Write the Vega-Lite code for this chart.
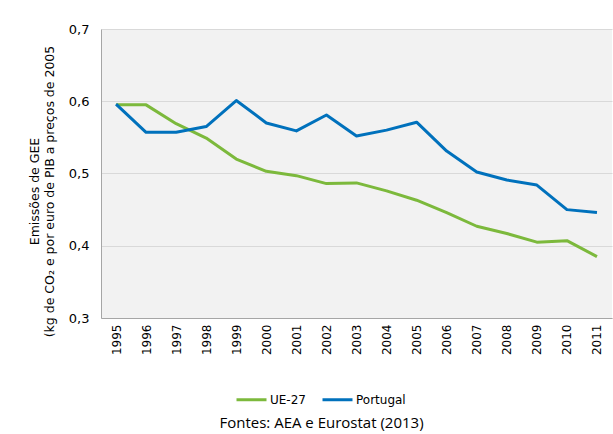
{
  "$schema": "https://vega.github.io/schema/vega-lite/v6.json",
  "autosize": {"type": "none"},
  "width": 511,
  "height": 289,
  "padding": {"left": 101, "top": 29, "right": 1, "bottom": 116},
  "background": "white",
  "data": {
    "values": [
      {"year": "1995", "series": "UE-27", "value": 0.595},
      {"year": "1996", "series": "UE-27", "value": 0.595},
      {"year": "1997", "series": "UE-27", "value": 0.569},
      {"year": "1998", "series": "UE-27", "value": 0.549},
      {"year": "1999", "series": "UE-27", "value": 0.520},
      {"year": "2000", "series": "UE-27", "value": 0.503},
      {"year": "2001", "series": "UE-27", "value": 0.497},
      {"year": "2002", "series": "UE-27", "value": 0.486},
      {"year": "2003", "series": "UE-27", "value": 0.487},
      {"year": "2004", "series": "UE-27", "value": 0.476},
      {"year": "2005", "series": "UE-27", "value": 0.463},
      {"year": "2006", "series": "UE-27", "value": 0.446},
      {"year": "2007", "series": "UE-27", "value": 0.427},
      {"year": "2008", "series": "UE-27", "value": 0.417},
      {"year": "2009", "series": "UE-27", "value": 0.405},
      {"year": "2010", "series": "UE-27", "value": 0.407},
      {"year": "2011", "series": "UE-27", "value": 0.385},
      {"year": "1995", "series": "Portugal", "value": 0.596},
      {"year": "1996", "series": "Portugal", "value": 0.557},
      {"year": "1997", "series": "Portugal", "value": 0.557},
      {"year": "1998", "series": "Portugal", "value": 0.565},
      {"year": "1999", "series": "Portugal", "value": 0.601},
      {"year": "2000", "series": "Portugal", "value": 0.570},
      {"year": "2001", "series": "Portugal", "value": 0.559},
      {"year": "2002", "series": "Portugal", "value": 0.581},
      {"year": "2003", "series": "Portugal", "value": 0.552},
      {"year": "2004", "series": "Portugal", "value": 0.560},
      {"year": "2005", "series": "Portugal", "value": 0.571},
      {"year": "2006", "series": "Portugal", "value": 0.531},
      {"year": "2007", "series": "Portugal", "value": 0.502},
      {"year": "2008", "series": "Portugal", "value": 0.491},
      {"year": "2009", "series": "Portugal", "value": 0.484},
      {"year": "2010", "series": "Portugal", "value": 0.450},
      {"year": "2011", "series": "Portugal", "value": 0.446}
    ]
  },
  "title": {
    "text": "Fontes: AEA e Eurostat (2013)",
    "orient": "bottom",
    "anchor": "middle",
    "frame": "group",
    "dx": -35,
    "font": "Open Sans",
    "fontSize": 15,
    "fontWeight": "normal",
    "color": "#000000",
    "offset": 10
  },
  "mark": {"type": "line", "strokeWidth": 3, "strokeJoin": "round"},
  "encoding": {
    "x": {
      "field": "year",
      "type": "ordinal",
      "scale": {"type": "point", "padding": 0.5},
      "axis": {
        "title": null,
        "labelAngle": -90,
        "labelFont": "DejaVu Sans",
        "labelFontSize": 12,
        "labelColor": "#000000",
        "labelPadding": 6,
        "ticks": false,
        "grid": false,
        "domainColor": "#a6a6a6",
        "domainWidth": 1
      }
    },
    "y": {
      "field": "value",
      "type": "quantitative",
      "scale": {"domain": [0.3, 0.7], "nice": false, "zero": false},
      "axis": {
        "values": [0.3, 0.4, 0.5, 0.6, 0.7],
        "labelExpr": "replace(format(datum.value, '.1f'), '.', ',')",
        "labelFont": "DejaVu Sans",
        "labelFontSize": 13,
        "labelColor": "#000000",
        "labelPadding": 12,
        "ticks": false,
        "gridColor": "#d9d9d9",
        "gridWidth": 1,
        "domainColor": "#a6a6a6",
        "title": ["Emissões de GEE", "(kg de CO₂ e por euro de PIB a preços de 2005"],
        "titleFont": "DejaVu Sans",
        "titleFontSize": 12.5,
        "titleFontWeight": "normal",
        "titleColor": "#000000",
        "titleLineHeight": 15,
        "titlePadding": 12,
        "titleY": 162
      }
    },
    "color": {
      "field": "series",
      "type": "nominal",
      "scale": {"domain": ["UE-27", "Portugal"], "range": ["#7cb93c", "#0071bc"]},
      "legend": {
        "title": null,
        "orient": "none",
        "legendX": 134,
        "legendY": 354,
        "direction": "horizontal",
        "symbolType": "stroke",
        "symbolStrokeWidth": 3,
        "symbolSize": 900,
        "labelFont": "DejaVu Sans",
        "labelFontSize": 12,
        "labelColor": "#000000",
        "labelOffset": 2,
        "columnPadding": 10
      }
    }
  },
  "config": {
    "view": {"fill": "#f2f2f2", "stroke": null}
  }
}
